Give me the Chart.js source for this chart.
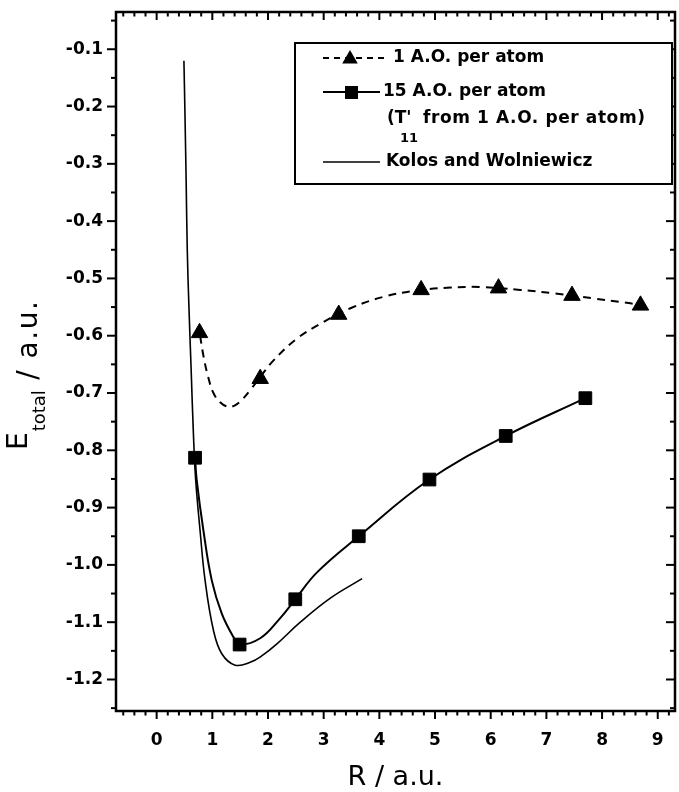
<!DOCTYPE html>
<html><head><meta charset="utf-8">
<script src="https://cdn.jsdelivr.net/npm/chart.js@4/dist/chart.umd.min.js"></script>
<style>html,body{margin:0;padding:0;background:#fff;}</style>
</head><body>
<canvas id="c" width="679" height="792"></canvas>
<script>
// ---- data ----
// 1 A.O. per atom : markers (triangles)
const triX = [0.77, 1.86, 3.27, 4.75, 6.14, 7.46, 8.69];
const triY = [-0.595, -0.675, -0.563, -0.520, -0.517, -0.530, -0.547];
// 1 A.O. per atom : dashed fitted curve
const dashX = [0.78, 0.84, 0.92, 1.02, 1.14, 1.28, 1.40, 1.52, 1.68, 1.86, 2.10, 2.52, 3.00, 3.48, 4.08, 4.68, 5.28, 5.81, 6.53, 7.13, 7.85, 8.33, 8.69];
const dashY = [-0.600, -0.635, -0.670, -0.700, -0.716, -0.724, -0.722, -0.713, -0.695, -0.672, -0.643, -0.605, -0.576, -0.552, -0.532, -0.521, -0.516, -0.515, -0.520, -0.526, -0.535, -0.541, -0.546];
// 15 A.O. per atom : markers (squares)
const sqX = [0.69, 1.49, 2.49, 3.63, 4.90, 6.27, 7.70];
const sqY = [-0.813, -1.139, -1.060, -0.950, -0.851, -0.775, -0.709];
// 15 A.O. per atom : solid curve through markers
const sqLineX = [0.69, 0.72, 0.84, 0.99, 1.17, 1.38, 1.49, 1.86, 2.20, 2.49, 2.88, 3.63, 4.90, 6.27, 7.70];
const sqLineY = [-0.813, -0.852, -0.940, -1.027, -1.085, -1.126, -1.139, -1.128, -1.095, -1.060, -1.013, -0.950, -0.851, -0.775, -0.709];
// Kolos and Wolniewicz
const kwX = [0.49, 0.51, 0.53, 0.55, 0.58, 0.62, 0.66, 0.70, 0.78, 0.87, 1.02, 1.17, 1.41, 1.68, 1.90, 2.16, 2.58, 3.12, 3.69];
const kwY = [-0.12, -0.22, -0.33, -0.45, -0.55, -0.66, -0.77, -0.85, -0.94, -1.027, -1.114, -1.155, -1.175, -1.170, -1.158, -1.138, -1.100, -1.058, -1.024];

const X_MIN = -0.73, X_MAX = 9.31, X_STEP = 1, X_MINOR = 0.2;
const Y_MIN = -1.255, Y_MAX = -0.035, Y_STEP = 0.1, Y_MINOR = 0.05;
const xTitle = 'R / a.u.';
const yTitleMain = 'E', yTitleSub = 'total', yTitleRest = ' / a.u.';
const legendRows = ['1 A.O. per atom', '15 A.O. per atom', "(T'", '11', 'from 1 A.O. per atom)', 'Kolos and Wolniewicz'];

const FONT = '"DejaVu Sans", "Liberation Sans", sans-serif';
const zip = (xs, ys) => xs.map((x, i) => ({x, y: ys[i]}));

function drawTri(ctx, x, y, r) {
  ctx.beginPath();
  for (let k = 0; k < 3; k++) {
    const a = k * 2 * Math.PI / 3;
    const px = x + Math.sin(a) * r, py = y - Math.cos(a) * r;
    if (k) ctx.lineTo(px, py); else ctx.moveTo(px, py);
  }
  ctx.closePath(); ctx.fill();
}

const framePlugin = {
  id: 'frame',
  afterDatasetsDraw(chart) {
    const ctx = chart.ctx, {left, right, top, bottom} = chart.chartArea;
    const xs = chart.scales.x, ys = chart.scales.y;
    ctx.save();
    ctx.strokeStyle = '#000';
    ctx.lineWidth = 2;
    const line = (a, b, c, d) => { ctx.beginPath(); ctx.moveTo(a, b); ctx.lineTo(c, d); ctx.stroke(); };
    for (let i = Math.ceil(X_MIN / X_MINOR); i * X_MINOR <= X_MAX + 1e-9; i++) {
      const v = i * X_MINOR;
      const major = Math.abs(v / X_STEP - Math.round(v / X_STEP)) < 1e-6;
      const px = xs.getPixelForValue(v), L = major ? 8 : 4.5;
      line(px, bottom, px, bottom + L);
      line(px, top, px, top + L);
    }
    for (let i = Math.ceil(Y_MIN / Y_MINOR - 1e-9); i * Y_MINOR <= Y_MAX + 1e-9; i++) {
      const v = i * Y_MINOR;
      const major = Math.abs(v / Y_STEP - Math.round(v / Y_STEP)) < 1e-6;
      const py = ys.getPixelForValue(v), L = major ? 9 : 5;
      line(left - L, py, left, py);
      line(right - L, py, right, py);
    }
    ctx.lineWidth = 2.5;
    ctx.strokeRect(left, top, right - left, bottom - top);
    ctx.restore();
  },
  afterDraw(chart) {
    const ctx = chart.ctx, {left, right} = chart.chartArea;
    ctx.save();
    ctx.fillStyle = '#000';
    // x title
    ctx.font = '27px ' + FONT;
    ctx.textAlign = 'center'; ctx.textBaseline = 'alphabetic';
    ctx.fillText(xTitle, (left + right) / 2, 785);
    // y title (rotated)
    ctx.translate(0, 450);
    ctx.rotate(-Math.PI / 2);
    ctx.textAlign = 'left';
    ctx.font = '28px ' + FONT;
    ctx.fillText(yTitleMain, 0, 27);
    let w = ctx.measureText(yTitleMain).width;
    ctx.font = '18px ' + FONT;
    ctx.fillText(yTitleSub, w + 1, 45);
    w += 1 + ctx.measureText(yTitleSub).width;
    ctx.font = '28px ' + FONT;
    ctx.letterSpacing = '1.5px';
    ctx.fillText(yTitleRest, w, 37);
    ctx.letterSpacing = '0px';
    ctx.restore();

    // legend
    ctx.save();
    ctx.fillStyle = '#fff';
    ctx.fillRect(295, 43, 377, 141);
    ctx.strokeStyle = '#000'; ctx.fillStyle = '#000';
    ctx.lineWidth = 2;
    ctx.strokeRect(295, 43, 377, 141);
    // row 1 dashed + triangle
    ctx.setLineDash([6, 5]);
    ctx.beginPath(); ctx.moveTo(323, 58); ctx.lineTo(388, 58); ctx.stroke();
    ctx.setLineDash([]);
    drawTri(ctx, 350, 59, 9);
    // row 2 solid + square
    ctx.beginPath(); ctx.moveTo(323, 92); ctx.lineTo(380, 92); ctx.stroke();
    ctx.fillRect(345, 86, 13, 13);
    // row 4 solid
    ctx.lineWidth = 1.6;
    ctx.beginPath(); ctx.moveTo(323, 162); ctx.lineTo(380, 162); ctx.stroke();
    ctx.font = 'bold 17px ' + FONT;
    ctx.textBaseline = 'middle'; ctx.textAlign = 'left';
    ctx.fillText(legendRows[0], 393, 58);
    ctx.fillText(legendRows[1], 383, 92);
    ctx.fillText(legendRows[2], 387, 119);
    ctx.font = 'bold 13px ' + FONT;
    ctx.fillText(legendRows[3], 400, 139);
    ctx.font = 'bold 17px ' + FONT;
    ctx.letterSpacing = '0.6px';
    ctx.fillText(legendRows[4], 423, 119);
    ctx.letterSpacing = '0px';
    ctx.fillText(legendRows[5], 386, 162);
    ctx.restore();
  }
};

new Chart(document.getElementById('c'), {
  type: 'scatter',
  data: {
    datasets: [
      {label: '1 A.O. per atom (curve)', data: zip(dashX, dashY), showLine: true, borderColor: '#000', borderWidth: 2, borderDash: [8, 6], pointRadius: 0, tension: 0.4},
      {label: '1 A.O. per atom', data: zip(triX, triY), showLine: false, pointStyle: 'triangle', pointRadius: 9.5, backgroundColor: '#000', borderColor: '#000', borderWidth: 1},
      {label: '15 A.O. per atom (curve)', data: zip(sqLineX, sqLineY), showLine: true, borderColor: '#000', borderWidth: 2, pointRadius: 0, tension: 0.4},
      {label: '15 A.O. per atom', data: zip(sqX, sqY), showLine: false, pointStyle: 'rect', pointRadius: 9, backgroundColor: '#000', borderColor: '#000', borderWidth: 1},
      {label: 'Kolos and Wolniewicz', data: zip(kwX, kwY), showLine: true, borderColor: '#000', borderWidth: 1.6, pointRadius: 0, tension: 0.4}
    ]
  },
  options: {
    responsive: false,
    animation: false,
    events: [],
    layout: {autoPadding: false, padding: {left: 0, top: 12, right: 4, bottom: 0}},
    plugins: {legend: {display: false}, tooltip: {enabled: false}, title: {display: false}},
    scales: {
      x: {
        type: 'linear', min: X_MIN, max: X_MAX,
        ticks: {stepSize: X_STEP, includeBounds: false, autoSkip: false, maxRotation: 0, padding: 19, color: '#000',
          font: {family: FONT, size: 17, weight: 'bold'}, callback: v => String(v)},
        grid: {display: false, drawTicks: false},
        border: {display: false},
        afterFit(s) { s.height = 81; s.paddingLeft = 0; s.paddingRight = 0; }
      },
      y: {
        type: 'linear', min: Y_MIN, max: Y_MAX,
        ticks: {stepSize: Y_STEP, includeBounds: false, autoSkip: false, padding: 13, color: '#000',
          font: {family: FONT, size: 17, weight: 'bold'}, callback: v => v.toFixed(1)},
        grid: {display: false, drawTicks: false},
        border: {display: false},
        afterFit(s) { s.width = 116; s.paddingTop = 0; s.paddingBottom = 0; }
      }
    }
  },
  plugins: [framePlugin]
});
</script>
</body></html>
